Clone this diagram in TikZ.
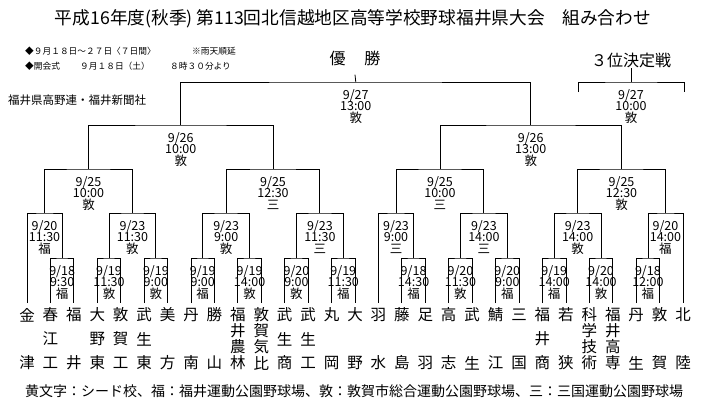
\documentclass[tikz,border=0pt]{standalone}
\usepackage{fontspec}
\setmainfont{Noto Sans CJK JP}
\usetikzlibrary{positioning}
\usetikzlibrary{calc}

\tikzset{
  bracket/.style={line width=0.8pt},
  teamchar/.style={inner sep=0pt, font=\fontsize{15.5}{15.5}\selectfont},
  gamelabel/.style={inner sep=0pt, align=center, font=\fontsize{12.5}{11.8}\selectfont},
  heading/.style={inner xsep=0pt, font=\fontsize{16}{16}\selectfont},
  infotext/.style={inner sep=0pt, anchor=west, font=\fontsize{8.7}{8.7}\selectfont},
}

% one school: column, number of characters, characters
\newcommand{\teamcol}[3]{%
  \coordinate (t#1) at ({27+23.43*#1},303);
  \foreach \c [count=\k] in {#3} {
    \node[teamchar] (t#1-\k) at ({27+23.43*#1},{315+48*(\k-1)/(#2-1)}) {\c};
  }}
% one game: name, left, right, height, date/time/ground
\newcommand{\match}[5]{%
  \path let \p1=($(#2)!0.5!(#3)$), \p2=(0,#4) in coordinate (#1) at (\x1,\y2);
  \draw[bracket] (#2) |- (#1) -| (#3);
  \node[gamelabel, below=7pt of #1] (#1-l) {#5};}

\begin{document}
\begin{tikzpicture}[x=1pt,y=-1pt]
\useasboundingbox (0,0) rectangle (711,404);

% header
\node[font=\fontsize{17.7}{17.7}\selectfont] (title) at (353,19) {平成16年度(秋季) 第113回北信越地区高等学校野球福井県大会　組み合わせ};
\node[infotext] (period) at (25,51) {◆９月１８日～２７日〈７日間〉};
\node[infotext] (rain) at (192,51) {※雨天順延};
\node[infotext] (open) at (25,66) {◆開会式};
\node[infotext] (opendate) at (80,66) {９月１８日（土）};
\node[infotext] (opentime) at (170,66) {８時３０分より};
\node[anchor=west, inner sep=0pt, font=\fontsize{11.5}{11.5}\selectfont] (org) at (8,100) {福井県高野連・福井新聞社};

% schools
\teamcol{0}{2}{金,津}
\teamcol{1}{3}{春,江,工}
\teamcol{2}{2}{福,井}
\teamcol{3}{3}{大,野,東}
\teamcol{4}{3}{敦,賀,工}
\teamcol{5}{3}{武,生,東}
\teamcol{6}{2}{美,方}
\teamcol{7}{2}{丹,南}
\teamcol{8}{2}{勝,山}
\teamcol{9}{4}{福,井,農,林}
\teamcol{10}{4}{敦,賀,気,比}
\teamcol{11}{3}{武,生,商}
\teamcol{12}{3}{武,生,工}
\teamcol{13}{2}{丸,岡}
\teamcol{14}{2}{大,野}
\teamcol{15}{2}{羽,水}
\teamcol{16}{2}{藤,島}
\teamcol{17}{2}{足,羽}
\teamcol{18}{2}{高,志}
\teamcol{19}{2}{武,生}
\teamcol{20}{2}{鯖,江}
\teamcol{21}{2}{三,国}
\teamcol{22}{3}{福,井,商}
\teamcol{23}{2}{若,狭}
\teamcol{24}{4}{科,学,技,術}
\teamcol{25}{4}{福,井,高,専}
\teamcol{26}{2}{丹,生}
\teamcol{27}{2}{敦,賀}
\teamcol{28}{2}{北,陸}

% left half
\match{g1}{t1}{t2}{258}{9/18\\9:30\\福}
\match{g2}{t0}{g1}{213}{9/20\\11:30\\福}
\match{g3}{t3}{t4}{258}{9/19\\11:30\\敦}
\match{g4}{t5}{t6}{258}{9/19\\9:00\\敦}
\match{g5}{g3}{g4}{213}{9/23\\11:30\\敦}
\match{g6}{g2}{g5}{169}{9/25\\10:00\\敦}
\match{g7}{t7}{t8}{258}{9/19\\9:00\\福}
\match{g8}{t9}{t10}{258}{9/19\\14:00\\敦}
\match{g9}{g7}{g8}{213}{9/23\\9:00\\敦}
\match{g10}{t11}{t12}{258}{9/20\\9:00\\敦}
\match{g11}{t13}{t14}{258}{9/19\\11:30\\福}
\match{g12}{g10}{g11}{213}{9/23\\11:30\\三}
\match{g13}{g9}{g12}{169}{9/25\\12:30\\三}
\match{g14}{g6}{g13}{125}{9/26\\10:00\\敦}

% right half
\match{h1}{t16}{t17}{258}{9/18\\14:30\\福}
\match{h2}{t15}{h1}{213}{9/23\\9:00\\三}
\match{h3}{t18}{t19}{258}{9/20\\11:30\\敦}
\match{h4}{t20}{t21}{258}{9/20\\9:00\\福}
\match{h5}{h3}{h4}{213}{9/23\\14:00\\三}
\match{h6}{h2}{h5}{169}{9/25\\10:00\\三}
\match{h7}{t22}{t23}{258}{9/19\\14:00\\福}
\match{h8}{t24}{t25}{258}{9/20\\14:00\\敦}
\match{h9}{h7}{h8}{213}{9/23\\14:00\\敦}
\match{h10}{t26}{t27}{258}{9/18\\12:00\\福}
\match{h11}{h10}{t28}{213}{9/20\\14:00\\福}
\match{h12}{h9}{h11}{169}{9/25\\12:30\\敦}
\match{h13}{h6}{h12}{125}{9/26\\13:00\\敦}

% final and third place
\match{final}{g14}{h13}{82}{9/27\\13:00\\敦}
\node[heading, inner ysep=9pt] (champ) at (355,58) {優\hspace{19pt}勝};
\draw[bracket] (final) -- (champ.south);
\coordinate (p3l) at (578,92);
\coordinate (p3r) at (684,92);
\match{third}{p3l}{p3r}{82}{9/27\\10:00\\敦}
\node[heading, inner ysep=0pt] (thirdtitle) at (631,60) {３位決定戦};
\draw[bracket] (third) -- (thirdtitle.south);

% legend
\node[anchor=west, inner sep=0pt, font=\fontsize{14}{14}\selectfont] (legend) at (25,391) {黄文字：シード校、福：福井運動公園野球場、敦：敦賀市総合運動公園野球場、三：三国運動公園野球場};
\end{tikzpicture}
\end{document}
